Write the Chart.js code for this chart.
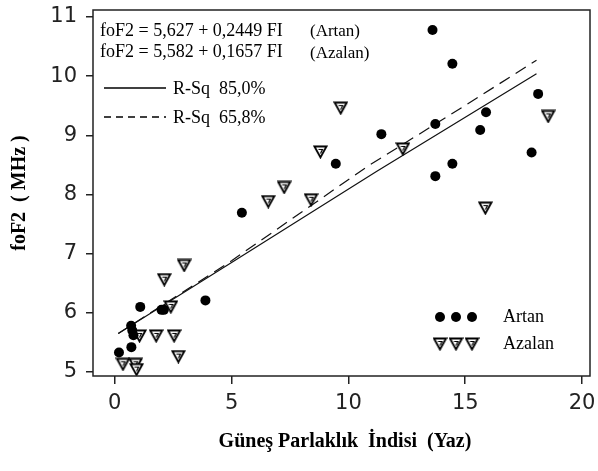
<!DOCTYPE html>
<html lang="tr">
<head>
  <meta charset="UTF-8">
  <title>foF2 - Güneş Parlaklık İndisi (Yaz)</title>
  <script src="https://cdn.jsdelivr.net/npm/chart.js"></script>
  <style>
    body { margin: 0; background: #fff; }
    #wrap { width: 598px; height: 471px; }
  </style>
</head>
<body>
  <div id="wrap"><canvas id="chart" width="598" height="471"></canvas></div>
  <script>
    // Artan (filled circles)
    const artanX = [13.6, 14.45, 18.12, 15.89, 13.72, 15.64, 11.41, 17.84, 9.46, 14.45, 13.72, 5.44, 3.88, 1.09, 2.0, 2.1, 0.7, 0.75, 0.8, 0.71, 0.18];
    const artanY = [10.78, 10.21, 9.70, 9.39, 9.19, 9.09, 9.02, 8.71, 8.52, 8.52, 8.31, 7.69, 6.21, 6.10, 6.05, 6.05, 5.78, 5.70, 5.62, 5.42, 5.33];
    // Azalan (open triangles)
    const azalanX = [9.67, 18.55, 8.80, 12.33, 7.25, 8.40, 15.86, 6.57, 2.97, 2.12, 2.40, 1.06, 1.77, 2.54, 2.72, 0.35, 0.89, 0.93];
    const azalanY = [9.46, 9.32, 8.72, 8.77, 8.12, 7.91, 7.77, 7.88, 6.80, 6.56, 6.10, 5.61, 5.61, 5.61, 5.26, 5.13, 5.13, 5.04];
    // fitted lines
    const fitSolidX = [0.15, 5, 11.2, 18.05];
    const fitSolidY = [5.65, 6.85, 8.39, 10.04];
    const fitDashX = [0.15, 5, 10.8, 15.5, 18.05];
    const fitDashY = [5.65, 6.88, 8.47, 9.63, 10.27];
    // ticks
    const xTicks = [0, 5, 10, 15, 20];
    const yTicks = [5, 6, 7, 8, 9, 10, 11];

    const serif = '"Liberation Serif", "Times New Roman", serif';
    const tickFont = '"DejaVu Sans", sans-serif';

    function pairs(xs, ys) {
      return xs.map((x, i) => ({ x: x, y: ys[i] }));
    }

    // down-pointing open triangle marker
    function makeTriangle() {
      const c = document.createElement('canvas');
      c.width = 15; c.height = 14;
      const g = c.getContext('2d');
      g.fillStyle = '#fff';
      g.strokeStyle = '#000';
      g.lineWidth = 1.8;
      g.beginPath();
      g.moveTo(1.5, 1.5); g.lineTo(13.5, 1.5); g.lineTo(7.5, 12.5); g.closePath();
      g.fill(); g.stroke();
      g.lineWidth = 1.2;
      g.beginPath();
      g.moveTo(5.5, 4.5); g.lineTo(9.5, 4.5); g.lineTo(7.5, 8.5);
      g.stroke();
      return c;
    }
    const triImg = makeTriangle();

    const decor = {
      id: 'decor',
      afterDraw(chart) {
        const ctx = chart.ctx;
        const a = chart.chartArea;
        ctx.save();
        // frame
        ctx.strokeStyle = '#222';
        ctx.lineWidth = 1.5;
        ctx.strokeRect(a.left, a.top, a.right - a.left, a.bottom - a.top);

        ctx.fillStyle = '#000';
        ctx.textBaseline = 'middle';
        ctx.textAlign = 'left';

        // equations (clipped like the original box)
        ctx.save();
        ctx.beginPath();
        ctx.rect(95, 12, 195, 60);
        ctx.clip();
        ctx.font = '18px ' + serif;
        ctx.fillText('foF2 = 5,627 + 0,2449 FI', 100, 31);
        ctx.fillText('foF2 = 5,582 + 0,1657 FI', 100, 52);
        ctx.restore();
        ctx.font = '17px ' + serif;
        ctx.fillText('(Artan)', 310, 32);
        ctx.fillText('(Azalan)', 310, 54);

        // line legend
        ctx.strokeStyle = '#000';
        ctx.lineWidth = 1.3;
        ctx.beginPath(); ctx.moveTo(104, 88); ctx.lineTo(166, 88); ctx.stroke();
        ctx.setLineDash([7, 5]);
        ctx.beginPath(); ctx.moveTo(104, 117); ctx.lineTo(166, 117); ctx.stroke();
        ctx.setLineDash([]);
        ctx.font = '18px ' + serif;
        ctx.fillText('R-Sq  85,0%', 173, 89);
        ctx.fillText('R-Sq  65,8%', 173, 118);

        // marker legend
        [440, 456, 472].forEach(x => {
          ctx.beginPath(); ctx.arc(x, 317, 5, 0, Math.PI * 2); ctx.fill();
          ctx.drawImage(triImg, x - 7.5, 344 - 7);
        });
        ctx.font = '18px ' + serif;
        ctx.fillText('Artan', 503, 317);
        ctx.fillText('Azalan', 503, 344);

        // axis titles
        ctx.font = 'bold 20px ' + serif;
        ctx.textAlign = 'center';
        ctx.fillText('Güneş Parlaklık  İndisi  (Yaz)', 345, 442);
        ctx.save();
        ctx.translate(20, 193);
        ctx.rotate(-Math.PI / 2);
        ctx.font = 'bold 20px ' + serif;
        ctx.fillText('foF2  ( MHz )', 0, 0);
        ctx.restore();
        ctx.restore();
      }
    };

    new Chart(document.getElementById('chart'), {
      type: 'scatter',
      data: {
        datasets: [
          {
            label: 'Artan',
            data: pairs(artanX, artanY),
            pointStyle: 'circle',
            pointRadius: 5,
            backgroundColor: '#000',
            borderColor: '#000',
            borderWidth: 0
          },
          {
            label: 'Azalan',
            data: pairs(azalanX, azalanY),
            pointStyle: triImg,
            pointRadius: 7
          },
          {
            type: 'line',
            label: 'R-Sq 85,0%',
            data: pairs(fitSolidX, fitSolidY),
            borderColor: '#111',
            borderWidth: 1.2,
            pointRadius: 0,
            fill: false,
            tension: 0
          },
          {
            type: 'line',
            label: 'R-Sq 65,8%',
            data: pairs(fitDashX, fitDashY),
            borderColor: '#111',
            borderWidth: 1.2,
            borderDash: [12, 7],
            pointRadius: 0,
            fill: false,
            tension: 0
          }
        ]
      },
      options: {
        responsive: false,
        animation: false,
        layout: { padding: { top: 10, right: 1, left: 0, bottom: 0 } },
        plugins: {
          legend: { display: false },
          tooltip: { enabled: false }
        },
        scales: {
          x: {
            type: 'linear',
            min: -0.932,
            max: 20.34,
            afterBuildTicks: s => { s.ticks = xTicks.map(v => ({ value: v })); },
            afterFit: s => { s.height = 95; s.paddingLeft = 0; s.paddingRight = 0; },
            grid: { drawOnChartArea: false, tickLength: 8, color: '#222', lineWidth: 1.5 },
            border: { display: false },
            ticks: {
              color: '#222',
              padding: 7,
              font: { family: tickFont, size: 21 }
            }
          },
          y: {
            min: 4.932,
            max: 11.118,
            afterBuildTicks: s => { s.ticks = yTicks.map(v => ({ value: v })); },
            afterFit: s => { s.width = 93; s.paddingTop = 0; s.paddingBottom = 0; },
            grid: { drawOnChartArea: false, tickLength: 7, color: '#222', lineWidth: 1.5 },
            border: { display: false },
            ticks: {
              color: '#222',
              padding: 9,
              font: { family: tickFont, size: 21 }
            }
          }
        }
      },
      plugins: [decor]
    });
  </script>
</body>
</html>
